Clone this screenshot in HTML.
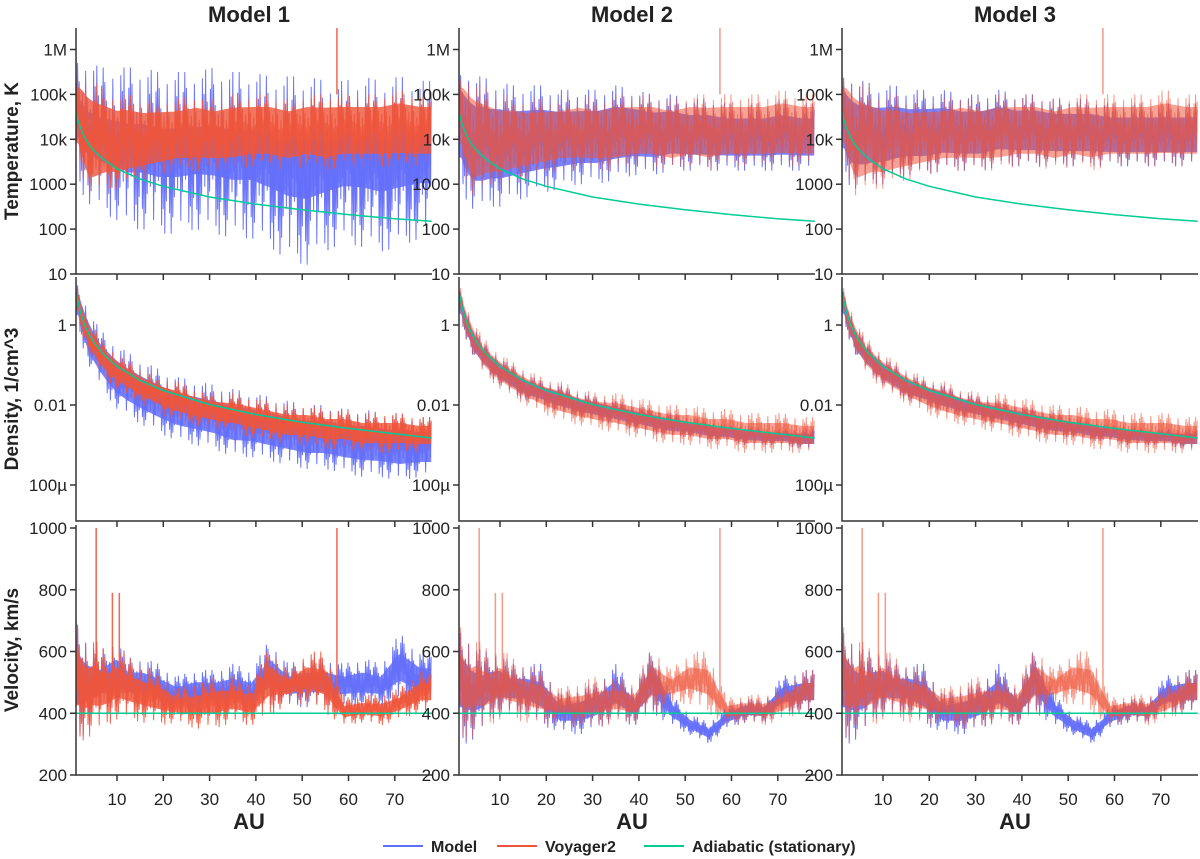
<!DOCTYPE html>
<html><head><meta charset="utf-8"><style>
body{margin:0;background:#fff}
svg{display:block;font-family:"Liberation Sans","DejaVu Sans",sans-serif}
.tk{font-size:17px;fill:#222}
.ttl{font-size:22px;font-weight:bold;fill:#222}
.yt{font-size:19px;font-weight:bold;fill:#222}
.lg{font-size:16px;font-weight:bold;fill:#222}
</style></head><body>
<svg id="c" width="1200" height="859"></svg>
<script>
// ---- data ----
const binEdges=[1.15,2,3,4,5.5,7,9,11,14,17,21,25,29,33,37,41,45,49,53,57,61,65,69,73,78];
const models=["Model 1","Model 2","Model 3"];
const xTicks=[10,20,30,40,50,60,70];
// temperature log10
const tM1hi=[6.0,5.9,5.7,5.7,5.6,5.6,5.6,5.6,5.6,5.5,5.5,5.5,5.6,5.5,5.5,5.4,5.4,5.4,5.3,5.3,5.4,5.3,5.4,5.3];
const tM1lo=[3.0,2.8,2.6,2.5,2.4,2.3,2.2,2.0,2.0,1.9,1.9,2.0,1.9,1.8,1.8,1.6,1.3,1.2,1.5,1.7,1.6,1.5,1.6,1.8];
const tM2hi=[5.7,5.6,5.5,5.4,5.4,5.3,5.3,5.2,5.2,5.2,5.1,5.1,5.1,5.2,5.1,5.0,5.0,4.9,4.9,4.8,4.8,4.8,4.9,4.8];
const tM2lo=[3.0,2.7,2.5,2.4,2.4,2.5,2.5,2.6,2.7,2.8,2.9,3.0,3.0,3.1,3.2,3.2,3.3,3.3,3.3,3.3,3.3,3.3,3.3,3.3];
const tM3hi=[5.6,5.5,5.4,5.3,5.3,5.2,5.2,5.2,5.1,5.1,5.1,5.0,5.0,5.1,5.0,5.0,4.9,4.9,4.9,4.8,4.8,4.8,4.8,4.8];
const tM3lo=[3.3,3.0,2.9,2.9,2.9,3.0,3.0,3.1,3.2,3.2,3.3,3.3,3.3,3.4,3.4,3.4,3.4,3.4,3.4,3.4,3.4,3.4,3.4,3.4];
const tVhi=[5.5,5.5,5.4,5.3,5.2,5.1,5.0,5.0,4.9,4.9,4.9,5.0,4.9,5.0,5.0,5.0,4.9,5.0,5.0,5.0,5.0,5.0,5.1,5.0];
const tVlo=[3.6,3.2,2.8,2.7,2.8,2.9,2.9,3.0,3.1,3.2,3.3,3.3,3.3,3.3,3.4,3.4,3.3,3.4,3.3,3.4,3.4,3.4,3.4,3.4];
const adX=[1.15,1.5,2,3,4,5,7,10,15,20,30,40,50,60,70,78];
const adT=[40000,28000,19000,11000,7500,5600,3600,2200,1300,900,520,360,270,210,170,150];
// density log10
const dM1hi=[1.1,0.8,0.5,0.2,-0.1,-0.3,-0.5,-0.7,-0.9,-1.1,-1.3,-1.4,-1.5,-1.6,-1.7,-1.8,-1.9,-2.0,-2.0,-2.1,-2.1,-2.2,-2.2,-2.3];
const dM1lo=[0.0,-0.5,-0.9,-1.2,-1.5,-1.8,-2.1,-2.3,-2.5,-2.7,-2.9,-3.0,-3.1,-3.3,-3.3,-3.4,-3.5,-3.6,-3.6,-3.7,-3.8,-3.8,-3.9,-3.8];
const dM2hi=[0.9,0.5,0.2,-0.1,-0.4,-0.6,-0.8,-1.0,-1.2,-1.4,-1.5,-1.7,-1.8,-1.9,-2.0,-2.1,-2.2,-2.3,-2.4,-2.5,-2.5,-2.6,-2.6,-2.6];
const dM2lo=[0.1,-0.3,-0.6,-0.9,-1.1,-1.3,-1.5,-1.7,-1.9,-2.0,-2.2,-2.3,-2.4,-2.5,-2.6,-2.7,-2.8,-2.8,-2.9,-2.9,-3.0,-3.0,-3.0,-3.1];
const dVhi=[1.0,0.6,0.3,0.0,-0.3,-0.5,-0.7,-0.9,-1.1,-1.3,-1.4,-1.6,-1.7,-1.7,-1.8,-1.9,-2.0,-2.0,-2.1,-2.1,-2.2,-2.2,-2.2,-2.3];
const dVlo=[0.2,-0.3,-0.6,-0.9,-1.2,-1.4,-1.6,-1.8,-2.0,-2.2,-2.4,-2.5,-2.6,-2.7,-2.8,-2.9,-3.0,-3.0,-3.1,-3.1,-3.2,-3.2,-3.2,-3.2];
const adD=[7,4.1,2.3,1.0,0.58,0.37,0.19,0.093,0.041,0.023,0.0103,0.0058,0.0037,0.0026,0.0019,0.0015];
// velocity
const vM1hi=[730,680,640,620,600,620,640,580,580,560,520,540,540,560,540,640,560,580,580,560,580,560,660,600];
const vM1lo=[300,320,360,380,400,410,420,420,420,400,400,410,400,400,400,420,420,420,420,420,420,420,440,420];
const vM2hi=[700,680,640,620,600,600,600,560,560,560,460,480,500,560,480,620,460,400,370,420,450,440,520,540];
const vM2lo=[300,300,310,320,340,380,390,400,400,360,340,330,350,380,360,400,360,330,300,350,370,370,400,400];
const vVhi=[720,680,640,650,620,600,620,580,560,540,480,500,520,520,500,620,540,600,600,450,460,460,480,540];
const vVlo=[300,310,320,330,340,360,380,380,370,360,370,350,350,370,360,390,430,430,400,360,370,360,380,400];
const adV=[400,400,400,400,400,400,400,400,400,400,400,400,400,400,400,400];
const vSpikeX=[5.5,9,10.5,57.5];
const vSpikeY=[1000,790,790,1000];
const tSpikeX=[57.5];
const tSpikeY=[6.5];

// ---- layout ----
const NS="http://www.w3.org/2000/svg";
const svg=document.getElementById('c');
function el(t,a,p){const e=document.createElementNS(NS,t);for(const k in a)e.setAttribute(k,a[k]);(p||svg).appendChild(e);return e;}
const colX=[76,459,842], W=356;
const rows=[{top:28,bot:274},{top:277,bot:521},{top:525,bot:775}];
function xs(c,x){return colX[c]-5.3+x*4.63;}
const yT=l=>274-(l-1)*44.9;
const yD=l=>325-l*40;
const yV=v=>775-(v-200)*247/800;
const cycle=[1,0.35,0.8,0.15,0.55,0.9,0.25,0.7,0.45,1,0.2,0.6,0.85,0.3,0.5,0.75,0.1];
const centers=binEdges.slice(0,-1).map((e,i)=>(e+binEdges[i+1])/2);
function interp(arr,x){
  if(x<=centers[0])return arr[0];
  for(let i=0;i<centers.length-1;i++){if(x<=centers[i+1]){const f=(x-centers[i])/(centers[i+1]-centers[i]);return arr[i]+(arr[i+1]-arr[i])*f;}}
  return arr[arr.length-1];
}
function band(c,g,hi,lo,yf,color,op,name,core){
  const xa=xs(c,binEdges[0]),xb=xs(c,binEdges[binEdges.length-1]);
  let d="",k=0,up="",dn=[];
  for(let px=xa;px<=xb;px+=0.8){
    const x=(px-colX[c]+5.3)/4.63;
    const h=interp(hi,x),l=interp(lo,x),mid=(h+l)/2;
    const f=cycle[k%cycle.length];
    const v=(k%2===0)?mid+(h-mid)*f:mid-(mid-l)*f;
    d+=(d?"L":"M")+px.toFixed(1)+","+yf(v).toFixed(1);
    if(k%3===0){up+=(up?"L":"M")+px.toFixed(1)+","+yf(mid+(h-mid)*core).toFixed(1);dn.push(px.toFixed(1)+","+yf(mid-(mid-l)*core).toFixed(1));}
    k++;
  }
  const fp=el('path',{d:up+"L"+dn.reverse().join("L")+"Z",fill:color,'fill-opacity':op*0.9,stroke:'none'},g);
  
  
  const p=el('path',{d,fill:'none',stroke:color,'stroke-width':1,'stroke-opacity':op},g);
  
  
}
function line(c,g,xa,ya,yf,color,name){
  let d="";xa.forEach((x,i)=>{d+=(i?"L":"M")+xs(c,x).toFixed(1)+","+yf(ya[i]).toFixed(1);});
  const p=el('path',{d,fill:'none',stroke:color,'stroke-width':1.5},g);
  
  
}
function spikes(c,g,sx,sy,base,yf,color,op){
  sx.forEach((x,i)=>{const l=el('line',{x1:xs(c,x),x2:xs(c,x),y1:yf(base),y2:yf(sy[i]),stroke:color,'stroke-width':1.5,'stroke-opacity':op},g);
  
  });
}
const BLUE="#636efa",RED="#ef553b",GREEN="#00cc96";
const tHi=[tM1hi,tM2hi,tM3hi],tLo=[tM1lo,tM2lo,tM3lo];
const dHi=[dM1hi,dM2hi,dM2hi],dLo=[dM1lo,dM2lo,dM2lo];
const vHi=[vM1hi,vM2hi,vM2hi],vLo=[vM1lo,vM2lo,vM2lo];
const yTickT=[[1,"10"],[2,"100"],[3,"1000"],[4,"10k"],[5,"100k"],[6,"1M"]];
const yTickD=[[-4,"100µ"],[-2,"0.01"],[0,"1"]];
const yTickV=[[200,"200"],[400,"400"],[600,"600"],[800,"800"],[1000,"1000"]];

for(let c=0;c<3;c++){
  const x0=colX[c],x1=x0+W;
  const ro=c===0?0.9:0.6;
  rows.forEach((r,ri)=>{
    const cp=el('clipPath',{id:'cp'+c+ri});el('rect',{x:x0,y:r.top,width:W,height:r.bot-r.top},cp);
  });
  const g=[0,1,2].map(ri=>el('g',{'clip-path':`url(#cp${c}${ri})`}));
  band(c,g[0],tHi[c],tLo[c],yT,BLUE,0.95,'model-temperature',c===0?0.3:0.55);
  band(c,g[0],tVhi,tVlo,yT,RED,ro,'voyager-temperature',0.65);
  spikes(c,g[0],tSpikeX,tSpikeY,5,yT,RED,ro);
  line(c,g[0],adX,adT.map(Math.log10),yT,GREEN,'adiabatic-temperature');
  band(c,g[1],dHi[c],dLo[c],yD,BLUE,0.95,'model-density',0.5);
  band(c,g[1],dVhi,dVlo,yD,RED,ro,'voyager-density',0.5);
  line(c,g[1],adX,adD.map(Math.log10),yD,GREEN,'adiabatic-density');
  band(c,g[2],vHi[c],vLo[c],yV,BLUE,0.95,'model-velocity',0.4);
  band(c,g[2],vVhi,vVlo,yV,RED,ro,'voyager-velocity',0.4);
  spikes(c,g[2],vSpikeX,vSpikeY,450,yV,RED,ro);
  line(c,g[2],adX,adV,yV,GREEN,'adiabatic-velocity');
  const ticksets=[[yTickT,yT],[yTickD,yD],[yTickV,yV]];
  rows.forEach((r,ri)=>{
    const a=el('path',{d:`M${x0},${r.top}V${r.bot}H${x1}`,fill:'none',stroke:'#333','stroke-width':1.5});
    
    
    xTicks.forEach(t=>{el('line',{x1:xs(c,t),x2:xs(c,t),y1:r.bot,y2:r.bot+6,stroke:'#333','stroke-width':1.5});
      if(ri===2){const tx=el('text',{x:xs(c,t),y:r.bot+30,class:'tk','text-anchor':'middle'});tx.textContent=t;
        
        }});
    ticksets[ri][0].forEach(([v,s])=>{const y=ticksets[ri][1](v);
      el('line',{x1:x0-6,x2:x0,y1:y,y2:y,stroke:'#333','stroke-width':1.5});
      const tx=el('text',{x:x0-9,y:y+6,class:'tk','text-anchor':'end'});tx.textContent=s;
      
      });
  });
  const tt=el('text',{x:x0+W/2-5,y:22,class:'ttl','text-anchor':'middle'});tt.textContent=models[c];
  
  
  const au=el('text',{x:x0+W/2-5,y:829,class:'ttl','text-anchor':'middle'});au.textContent="AU";
  
  
}
[["Temperature, K",151],["Density, 1/cm^3",399],["Velocity, km/s",650]].forEach(([s,y])=>{
  const t=el('text',{x:0,y:0,class:'yt','text-anchor':'middle',transform:`translate(18,${y}) rotate(-90)`});t.textContent=s;
  
  
});
[[383,BLUE,"Model"],[497,RED,"Voyager2"],[644,GREEN,"Adiabatic (stationary)"]].forEach(([x,col,s])=>{
  const g=el('g',{});
  
  
  el('line',{x1:x,x2:x+40,y1:846,y2:846,stroke:col,'stroke-width':2},g);
  const t=el('text',{x:x+48,y:852,class:'lg'},g);t.textContent=s;
});
</script>
</body></html>
